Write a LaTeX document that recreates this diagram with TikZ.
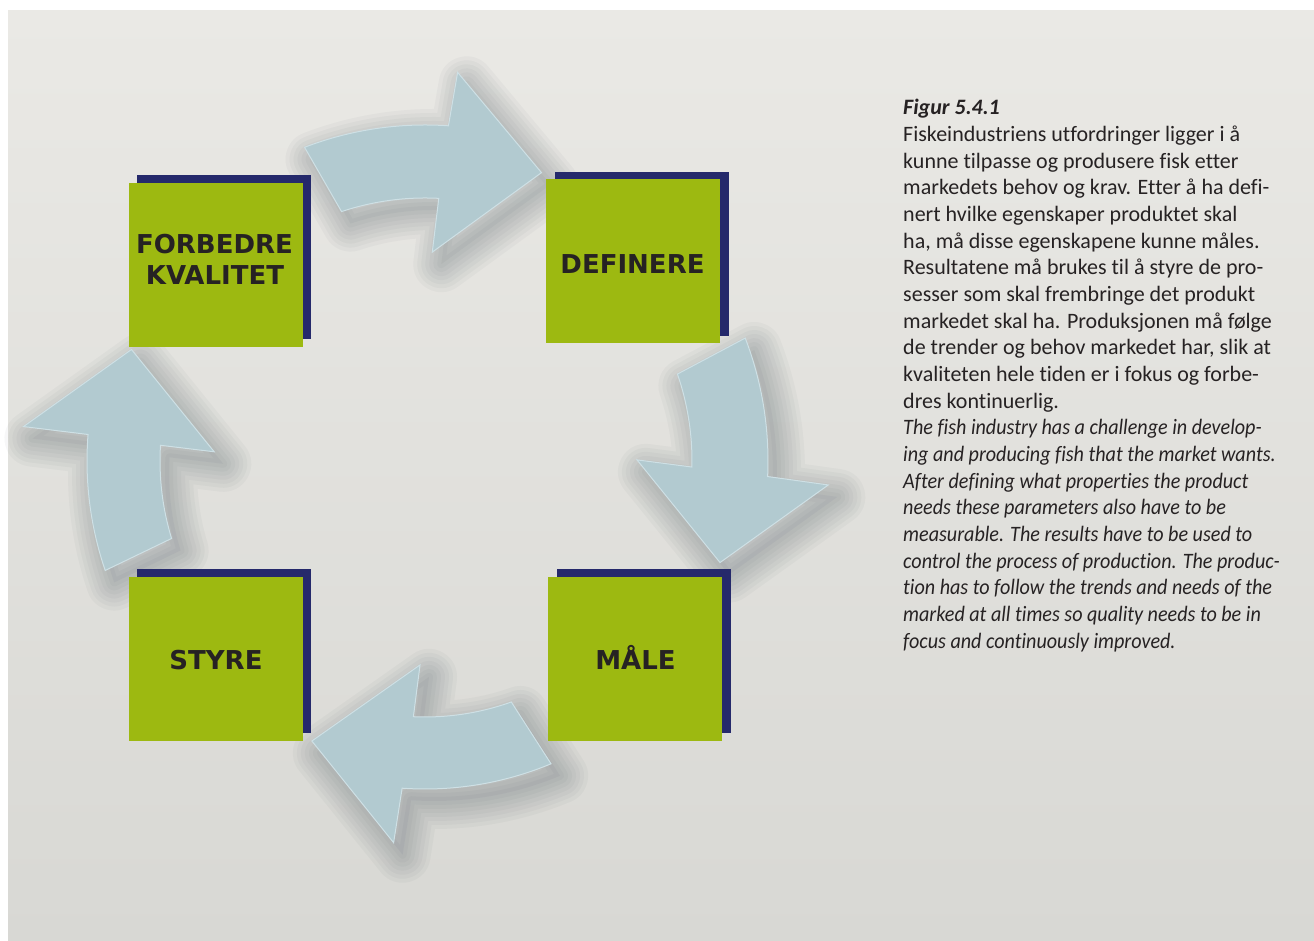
\documentclass[tikz,border=0pt]{standalone}
\usepackage{fontspec}
\newfontfamily\txtfont{Carlito}[Ligatures=NoCommon, ItalicFeatures={FakeStretch=0.915}]
\newfontfamily\lblfont{DejaVu Sans}
\definecolor{bgtop}{RGB}{234,233,229}
\definecolor{bgmid}{RGB}{231,231,227}
\definecolor{bgbot}{RGB}{216,216,212}
\definecolor{boxgreen}{RGB}{157,185,17}
\definecolor{boxnavy}{RGB}{37,41,107}
\definecolor{txtdark}{RGB}{38,34,35}
\definecolor{arrowblue}{RGB}{178,202,208}
\definecolor{arrowedge}{RGB}{206,224,229}
\definecolor{shadowc}{RGB}{60,75,85}
\def\ArrTop{(108.5:263pt) -- (111:336pt) arc[start angle=111, end angle=86, radius=336pt] -- (85.2:390pt) -- (68:311pt) -- (88:209pt) -- (87:263pt) arc[start angle=87, end angle=108.5, radius=263pt] -- cycle}
\def\ArrRight{(19:267pt) -- (21:343pt) arc[start angle=21, end angle=-2.6, radius=343pt] -- (-3.4:404pt) -- (-19:312pt) -- (0.3:212pt) -- (-1.3:267pt) arc[start angle=-1.3, end angle=19, radius=267pt] -- cycle}
\def\ArrBottom{(-70.3:256pt) -- (-67.4:328pt) arc[start angle=-67.4, end angle=-94, radius=328pt] -- (-94.7:383pt) -- (-112:302pt) -- (-91.4:204pt) -- (-92.6:256pt) arc[start angle=-92.6, end angle=-70.3, radius=256pt] -- cycle}
\def\ArrLeft{(197:265pt) -- (198.9:338pt) arc[start angle=198.9, end angle=175.5, radius=338pt] -- (175.1:403pt) -- (159.2:314pt) -- (177.5:211pt) -- (176.6:265pt) arc[start angle=176.6, end angle=197, radius=265pt] -- cycle}
\tikzset{
  greenbox/.style={fill=boxgreen, inner sep=0pt, outer sep=0pt, minimum width=174pt, minimum height=164pt, anchor=south west},
  navybox/.style={fill=boxnavy, inner sep=0pt, outer sep=0pt, minimum width=174pt, minimum height=164pt, anchor=south west},
  lbl/.style={font=\lblfont\bfseries\fontsize{26}{30}\selectfont, text=txtdark, anchor=base, inner sep=0pt},
  txtline/.style={font=\txtfont\fontsize{22}{26}\selectfont, text=txtdark, anchor=base west, inner sep=0pt},
  arrowbody/.style={fill=arrowblue, draw=arrowedge, line width=1pt, line join=miter},
  shadowfill/.style={fill=shadowc, opacity=0.05, shift={(9pt,-12pt)}},
  shadowring/.style={draw=shadowc, opacity=0.04, line join=round, shift={(9pt,-12pt)}},
}
\begin{document}
\begin{tikzpicture}[x=1pt,y=1pt]
\useasboundingbox (0,0) rectangle (1314,941);
\fill[white] (0,0) rectangle (1314,941);
\shade[top color=bgtop, middle color=bgmid, bottom color=bgbot] (8,0) rectangle (1314,930);
% arrows
\begin{scope}[shift={(425,480)}]
  \fill[shadowfill] \ArrTop;
  \fill[shadowfill] \ArrRight;
  \fill[shadowfill] \ArrBottom;
  \fill[shadowfill] \ArrLeft;
  \foreach \w in {56,48,40,32,24,16,8}{
    \draw[shadowring, line width=\w pt] \ArrTop;
    \draw[shadowring, line width=\w pt] \ArrRight;
    \draw[shadowring, line width=\w pt] \ArrBottom;
    \draw[shadowring, line width=\w pt] \ArrLeft;
  }
  \filldraw[arrowbody] \ArrTop;
  \filldraw[arrowbody] \ArrRight;
  \filldraw[arrowbody] \ArrBottom;
  \filldraw[arrowbody] \ArrLeft;
\end{scope}
% boxes
\node[navybox] (forbS) at (137,602) {};
\node[greenbox] (forb) at (129,594) {};
\node[navybox] (defS) at (555,605) {};
\node[greenbox] (def) at (546,598) {};
\node[navybox] (styS) at (137,208) {};
\node[greenbox] (sty) at (129,200) {};
\node[navybox] (maaS) at (557,208) {};
\node[greenbox] (maa) at (548,200) {};
\node[lbl] (lforb1) at (214.5,687) {FORBEDRE};
\node[lbl] (lforb2) at (215,656) {KVALITET};
\node[lbl] (ldef) at (632.5,667) {DEFINERE};
\node[lbl] (lsty) at (216,271) {STYRE};
\node[lbl] (lmaa) at (635.5,271) {MÅLE};
% caption text
\node[txtline] (l1) at (903,826.3) {\bfseries\itshape Figur 5.4.1};
\node[txtline] (l2) at (903,799.3) {Fiskeindustriens utfordringer ligger i å};
\node[txtline] (l3) at (903,772.6) {kunne tilpasse og produsere fisk etter};
\node[txtline] (l4) at (903,746) {markedets behov og krav. Etter å ha defi-};
\node[txtline] (l5) at (903,719.3) {nert hvilke egenskaper produktet skal};
\node[txtline] (l6) at (903,692.6) {ha, må disse egenskapene kunne måles.};
\node[txtline] (l7) at (903,666) {Resultatene må brukes til å styre de pro-};
\node[txtline] (l8) at (903,639.3) {sesser som skal frembringe det produkt};
\node[txtline] (l9) at (903,612.6) {markedet skal ha. Produksjonen må følge};
\node[txtline] (l10) at (903,586) {de trender og behov markedet har, slik at};
\node[txtline] (l11) at (903,559.3) {kvaliteten hele tiden er i fokus og forbe-};
\node[txtline] (l12) at (903,532.6) {dres kontinuerlig.};
\node[txtline] (l13) at (903,506) {\itshape The fish industry has a challenge in develop-};
\node[txtline] (l14) at (903,479.3) {\itshape ing and producing fish that the market wants.};
\node[txtline] (l15) at (903,452.6) {\itshape After defining what properties the product};
\node[txtline] (l16) at (903,426) {\itshape needs these parameters also have to be};
\node[txtline] (l17) at (903,399.3) {\itshape measurable. The results have to be used to};
\node[txtline] (l18) at (903,372.6) {\itshape control the process of production. The produc-};
\node[txtline] (l19) at (903,346) {\itshape tion has to follow the trends and needs of the};
\node[txtline] (l20) at (903,319.3) {\itshape marked at all times so quality needs to be in};
\node[txtline] (l21) at (903,292.6) {\itshape focus and continuously improved.};
\end{tikzpicture}
\end{document}
